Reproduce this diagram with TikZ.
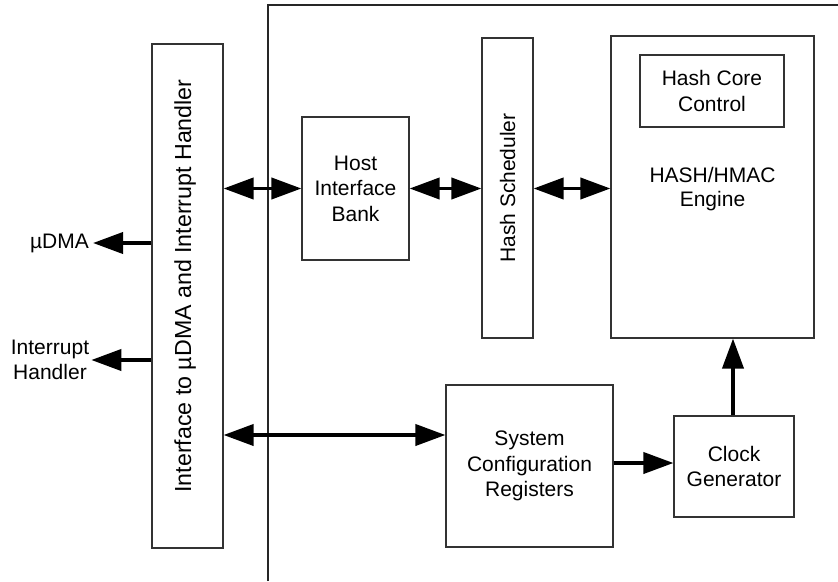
\documentclass[tikz,border=0pt]{standalone}
\usepackage{fontspec}
\setmainfont{Liberation Sans}
\usetikzlibrary{arrows.meta}
\begin{document}
\begin{tikzpicture}[x=1pt,y=-1pt,
  box/.style={draw=black!80,line width=1.1pt,rectangle,inner sep=0pt,align=center,
    font=\fontsize{21}{25.5}\selectfont},
  lbl/.style={align=center,inner sep=2pt,font=\fontsize{21}{25.5}\selectfont},
  bus/.style={line width=3.8pt,black},
  tip/.style={-{Triangle[length=30pt,width=21pt]}},
  bi/.style={{Triangle[length=30pt,width=21pt]}-{Triangle[length=30pt,width=21pt]}}]
\useasboundingbox (0,0) rectangle (838,581);
% frame
\coordinate (fb) at (268,581);
\coordinate (ft) at (268,5);
\coordinate (fr) at (838,5);
\draw[line width=1.1pt,black!85] (fb) -- (ft) -- (fr);
% boxes
\node[box,minimum width=71pt,minimum height=504pt] (iface) at (187.5,296) {};
\node[lbl,rotate=90,font=\fontsize{23.2}{27}\selectfont] (ifacet) at (185,286) {Interface to µDMA and Interrupt Handler};
\node[box,minimum width=107pt,minimum height=143pt] (hib) at (355.5,188.5) {Host\\Interface\\Bank};
\node[box,minimum width=51pt,minimum height=300pt] (sched) at (507.5,188) {};
\node[lbl,rotate=90] (schedt) at (sched.center) {Hash Scheduler};
\node[box,minimum width=203pt,minimum height=302pt] (eng) at (712.5,187) {};
\node[lbl,font=\fontsize{21}{24}\selectfont] (engt) at (712.5,189) {HASH/HMAC\\Engine};
\node[box,minimum width=144pt,minimum height=72pt] (hcc) at (712,91) {Hash Core\\Control};
\node[box,minimum width=167pt,minimum height=162pt] (sys) at (529.5,466) {System\\Configuration\\Registers};
\node[box,minimum width=120pt,minimum height=101pt] (clk) at (734,466.5) {Clock\\Generator};
% external labels
\node[lbl,anchor=east,inner sep=4pt] (dma) at (93,243) {µDMA};
\node[lbl] (irq) at (50,360) {Interrupt\\Handler};
% connectors
\draw[bus,bi] (iface.east |- hib.west) -- (hib.west);
\draw[bus,bi] (hib.east) -- (sched.west |- hib.east);
\draw[bus,bi] (sched.east |- hib.east) -- (eng.west |- hib.east);
\draw[bus,bi] (iface.east |- 0,435) -- (sys.west |- 0,435);
\draw[bus,tip] (sys.east |- 0,463) -- (clk.west |- 0,463);
\draw[bus,tip] (clk.north -| 733,0) -- (eng.south -| 733,0);
\draw[bus,tip] (iface.west |- dma.east) -- (dma.east);
\draw[bus,tip] (iface.west |- irq.east) -- (irq.east);
\end{tikzpicture}
\end{document}
